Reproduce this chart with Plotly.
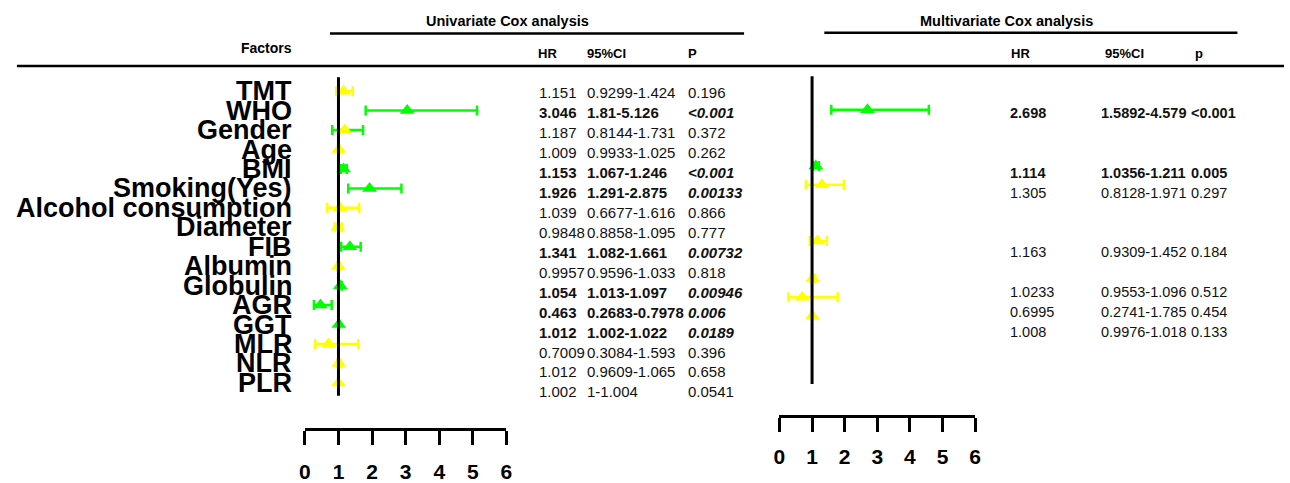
import plotly.graph_objects as go

# ---------------- data ----------------
factors = ["TMT", "WHO", "Gender", "Age", "BMI", "Smoking(Yes)", "Alcohol consumption",
           "Diameter", "FIB", "Albumin", "Globulin", "AGR", "GGT", "MLR", "NLR", "PLR"]

uni_hr = [1.151, 3.046, 1.187, 1.009, 1.153, 1.926, 1.039, 0.9848, 1.341, 0.9957,
          1.054, 0.463, 1.012, 0.7009, 1.012, 1.002]
uni_lo = [0.9299, 1.81, 0.8144, 0.9933, 1.067, 1.291, 0.6677, 0.8858, 1.082, 0.9596,
          1.013, 0.2683, 1.002, 0.3084, 0.9609, 1.0]
uni_hi = [1.424, 5.126, 1.731, 1.025, 1.246, 2.875, 1.616, 1.095, 1.661, 1.033,
          1.097, 0.7978, 1.022, 1.593, 1.065, 1.004]
uni_hr_text = ["1.151", "3.046", "1.187", "1.009", "1.153", "1.926", "1.039", "0.9848",
               "1.341", "0.9957", "1.054", "0.463", "1.012", "0.7009", "1.012", "1.002"]
uni_ci_text = ["0.9299-1.424", "1.81-5.126", "0.8144-1.731", "0.9933-1.025", "1.067-1.246",
               "1.291-2.875", "0.6677-1.616", "0.8858-1.095", "1.082-1.661", "0.9596-1.033",
               "1.013-1.097", "0.2683-0.7978", "1.002-1.022", "0.3084-1.593", "0.9609-1.065",
               "1-1.004"]
uni_p_text = ["0.196", "<0.001", "0.372", "0.262", "<0.001", "0.00133", "0.866", "0.777",
              "0.00732", "0.818", "0.00946", "0.006", "0.0189", "0.396", "0.658", "0.0541"]

multi_factors = ["WHO", "BMI", "Smoking(Yes)", "FIB", "Globulin", "AGR", "GGT"]
multi_hr = [2.698, 1.114, 1.305, 1.163, 1.0233, 0.6995, 1.008]
multi_lo = [1.5892, 1.0356, 0.8128, 0.9309, 0.9553, 0.2741, 0.9976]
multi_hi = [4.579, 1.211, 1.971, 1.452, 1.096, 1.785, 1.018]
multi_hr_text = ["2.698", "1.114", "1.305", "1.163", "1.0233", "0.6995", "1.008"]
multi_ci_text = ["1.5892-4.579", "1.0356-1.211", "0.8128-1.971", "0.9309-1.452",
                 "0.9553-1.096", "0.2741-1.785", "0.9976-1.018"]
multi_p_text = ["<0.001", "0.005", "0.297", "0.184", "0.512", "0.454", "0.133"]

axis_ticks = [0, 1, 2, 3, 4, 5, 6]

# ---------------- style ----------------
W, H = 1290, 483
GREEN = "#00ff00"
YELLOW = "#ffff00"
FONT = "Liberation Sans, Arial, sans-serif"
bar_color_override = {"Gender": GREEN}


def px(x):
    return x / W


def py(y):
    return 1 - y / H


def row_range(first_px, step):
    return [(H - first_px) / step, -first_px / step]


def pnum(s):
    return float(s.replace("<", ""))


def esc(s):
    return s.replace("<", "&lt;")


fig = go.Figure()

# univariate forest
for i, f in enumerate(factors):
    sig = pnum(uni_p_text[i]) < 0.05
    col = GREEN if sig else YELLOW
    bcol = bar_color_override.get(f, col)
    fig.add_trace(go.Scatter(
        x=[uni_hr[i]], y=[f], mode="markers", xaxis="x", yaxis="y",
        marker=dict(symbol="triangle-up", size=13, color=col),
        error_x=dict(type="data", symmetric=False,
                     array=[uni_hi[i] - uni_hr[i]], arrayminus=[uni_hr[i] - uni_lo[i]],
                     color=bcol, thickness=2.5, width=5),
        cliponaxis=False, showlegend=False, hoverinfo="skip"))

# multivariate forest
for i, f in enumerate(multi_factors):
    sig = pnum(multi_p_text[i]) < 0.05
    col = GREEN if sig else YELLOW
    fig.add_trace(go.Scatter(
        x=[multi_hr[i]], y=[f], mode="markers", xaxis="x2", yaxis="y2",
        marker=dict(symbol="triangle-up", size=13, color=col),
        error_x=dict(type="data", symmetric=False,
                     array=[multi_hi[i] - multi_hr[i]], arrayminus=[multi_hr[i] - multi_lo[i]],
                     color=col, thickness=2.5, width=5),
        cliponaxis=False, showlegend=False, hoverinfo="skip"))

annotations = []
# factor labels
for f in factors:
    annotations.append(dict(x=px(291), xref="paper", xanchor="right", y=f, yref="y",
                            yanchor="middle", text="<b>" + f + "</b>", showarrow=False,
                            font=dict(family=FONT, size=27, color="black")))

# univariate table
for i, f in enumerate(factors):
    sig = pnum(uni_p_text[i]) < 0.05
    hr, ci, p = uni_hr_text[i], uni_ci_text[i], esc(uni_p_text[i])
    if sig:
        hr, ci, p = "<b>" + hr + "</b>", "<b>" + ci + "</b>", "<b><i>" + p + "</i></b>"
    for xx, t in ((536, hr), (584, ci), (686, p)):
        annotations.append(dict(x=px(xx), xref="paper", xanchor="left", y=f, yref="y3",
                                yanchor="middle", text=t, showarrow=False,
                                font=dict(family=FONT, size=15, color="#111111")))

# multivariate table
for i, f in enumerate(multi_factors):
    sig = pnum(multi_p_text[i]) < 0.05
    hr, ci, p = multi_hr_text[i], multi_ci_text[i], esc(multi_p_text[i])
    if sig:
        hr, ci, p = "<b>" + hr + "</b>", "<b>" + ci + "</b>", "<b>" + p + "</b>"
    for xx, t in ((1011, hr), (1103, ci), (1194, p)):
        annotations.append(dict(x=px(xx), xref="paper", xanchor="left", y=f, yref="y3",
                                yanchor="middle", text=t, showarrow=False,
                                font=dict(family=FONT, size=14.5, color="#111111")))

# headers
headers = [
    ("Factors", 291, 49, "right", 14),
    ("Univariate Cox analysis", 422, 22, "left", 14.5),
    ("HR", 535, 55, "left", 13),
    ("95%CI", 584, 55, "left", 13),
    ("P", 686, 55, "left", 13),
    ("Multivariate Cox analysis", 921, 21, "left", 14.5),
    ("HR", 1012, 55, "left", 13),
    ("95%CI", 1107, 55, "left", 13),
    ("p", 1198, 55, "left", 13),
]
for t, xx, yy, anc, sz in headers:
    annotations.append(dict(x=px(xx), xref="paper", xanchor=anc, y=py(yy), yref="paper",
                            yanchor="middle", text="<b>" + t + "</b>", showarrow=False,
                            font=dict(family=FONT, size=sz, color="black")))

shapes = [
    dict(type="line", xref="paper", yref="paper", x0=px(11), x1=1, y0=py(67.5), y1=py(67.5),
         line=dict(color="black", width=2.5)),
    dict(type="line", xref="paper", yref="paper", x0=px(327), x1=px(745), y0=py(34.3), y1=py(34.3),
         line=dict(color="black", width=2.5)),
    dict(type="line", xref="paper", yref="paper", x0=px(826), x1=px(1243), y0=py(33.5), y1=py(33.5),
         line=dict(color="black", width=2.5)),
    dict(type="line", xref="x", yref="paper", x0=1, x1=1, y0=py(79), y1=py(405),
         line=dict(color="black", width=3)),
    dict(type="line", xref="x2", yref="paper", x0=1, x1=1, y0=py(78), y1=py(393),
         line=dict(color="black", width=3)),
]


def tickaxis(standoff):
    return dict(range=[0, 6], tickvals=axis_ticks, ticks="outside", ticklen=14, tickwidth=3,
                tickcolor="black", showline=True, linewidth=3, linecolor="black",
                showgrid=False, zeroline=False, anchor="free", fixedrange=True,
                ticklabelstandoff=standoff,
                tickfont=dict(family=FONT, size=21, color="black", weight="bold"))


hidden_cat = dict(type="category", categoryarray=factors, categoryorder="array",
                  visible=False, showgrid=False, zeroline=False, fixedrange=True)

fig.update_layout(
    width=W, height=H, margin=dict(l=0, r=0, t=0, b=0),
    paper_bgcolor="white", plot_bgcolor="rgba(0,0,0,0)",
    xaxis=dict(domain=[px(301.7), px(505.1)], position=py(439), **tickaxis(9)),
    xaxis2=dict(domain=[px(780.7), px(978.3)], position=py(426), **tickaxis(7)),
    xaxis3=dict(domain=[0, 1], visible=False, range=[0, 1], fixedrange=True),
    yaxis=dict(domain=[0, 1], range=row_range(93.3, 19.9), anchor="free", position=0, **hidden_cat),
    yaxis2=dict(domain=[0, 1], range=row_range(93.1, 19.18), anchor="free", position=0, **hidden_cat),
    yaxis3=dict(domain=[0, 1], range=row_range(95, 20.4), anchor="x3", **hidden_cat),
    annotations=annotations, shapes=shapes, showlegend=False,
)

fig.write_html("out.html", config={"displayModeBar": False},
               post_script="document.body.style.margin='0px';document.body.style.overflow='hidden';")
